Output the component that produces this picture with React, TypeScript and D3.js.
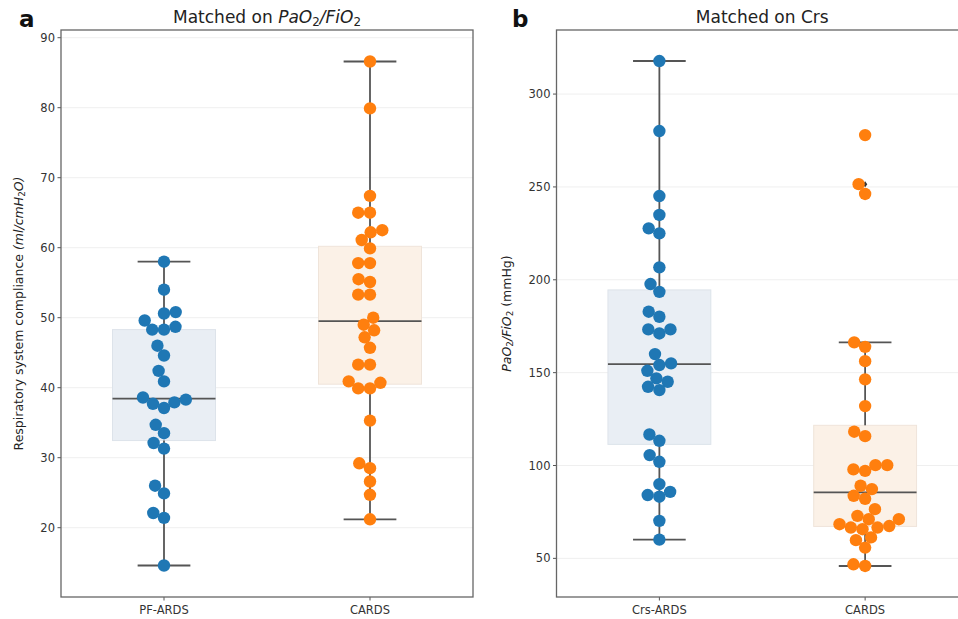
import React from 'react';
import { scaleLinear, scaleBand, quantile, ascending } from 'd3';

// panel a: compliance (ml/cmH2O)
const pfArds = [58, 54, 50.8, 50.6, 49.6, 48.3, 48.3, 48.7, 46.0, 44.6, 42.4, 40.9, 38.6, 37.7, 37.1, 37.9, 38.3, 34.7, 33.5, 32.1, 31.3, 26.0, 24.9, 22.1, 21.4, 14.6];
const cardsA = [86.6, 79.9, 67.4, 65.0, 65.0, 62.5, 62.2, 61.1, 59.9, 57.8, 57.8, 55.5, 55.1, 53.3, 53.3, 50.0, 49.0, 48.2, 47.2, 45.7, 43.3, 43.3, 40.9, 39.9, 39.9, 40.7, 35.3, 29.2, 28.5, 26.6, 24.7, 21.2];
// panel b: PaO2/FiO2 (mmHg)
const crsArds = [317.8, 280.1, 245.1, 234.9, 227.7, 225.0, 206.7, 197.7, 193.5, 182.8, 180.1, 173.3, 171.1, 173.3, 160.0, 155.0, 154.1, 151.0, 146.9, 145.1, 142.4, 140.6, 116.7, 113.3, 105.6, 102.0, 90.0, 84.1, 83.2, 85.8, 70.2, 60.1];
const cardsB = [277.9, 251.5, 246.2, 166.3, 163.9, 156.2, 146.4, 132.0, 118.2, 115.8, 97.9, 97.1, 100.2, 100.2, 89.1, 87.3, 83.7, 82.1, 76.5, 72.9, 71.1, 68.4, 66.6, 65.7, 66.6, 67.4, 71.1, 59.8, 61.3, 55.8, 46.8, 45.9];

const catsA = ['PF-ARDS', 'CARDS'];
const catsB = ['Crs-ARDS', 'CARDS'];
const ticksA = [20, 30, 40, 50, 60, 70, 80, 90];
const ticksB = [50, 100, 150, 200, 250, 300];

const colors = ['#1f77b4', '#ff7f0e'];
const boxFills = ['#e9eef4', '#fbf1e7'];
const boxEdges = ['#dde3ea', '#efe4da'];
const FONT = 'DejaVu Sans';
const R = 6.2;
const GAP = 11.8;

type Pt = { v: number; x: number; y: number };

// simple beeswarm, like seaborn: ascending order, closest free spot to center
function swarm(vals: number[], y: (v: number) => number): Pt[] {
  const pts: Pt[] = vals.map(v => ({ v, x: 0, y: y(v) }));
  const order = [...pts].sort((a, b) => ascending(a.v, b.v));
  const placed: Pt[] = [];
  order.forEach(p => {
    const nb = placed.filter(q => Math.abs(q.y - p.y) < GAP);
    const cand = [0];
    nb.forEach(q => {
      const dx = Math.sqrt(GAP * GAP - (q.y - p.y) ** 2);
      cand.push(q.x - dx, q.x + dx);
    });
    const sorted = cand.map((c, i) => ({ c, i })).sort((a, b) => Math.abs(a.c) - Math.abs(b.c) || a.i - b.i);
    const ok = sorted.find(({ c }) => nb.every(q => (c - q.x) ** 2 + (p.y - q.y) ** 2 >= GAP * GAP - 0.01));
    p.x = ok ? ok.c : 0;
    placed.push(p);
  });
  return pts;
}

function stats(vals: number[]) {
  const s = [...vals].sort(ascending);
  const q1 = quantile(s, 0.25)!;
  const med = quantile(s, 0.5)!;
  const q3 = quantile(s, 0.75)!;
  const iqr = q3 - q1;
  const inside = s.filter(v => v >= q1 - 1.5 * iqr && v <= q3 + 1.5 * iqr);
  return { q1, med, q3, lo: inside[0], hi: inside[inside.length - 1], fliers: s.filter(v => !inside.includes(v)) };
}

function Sub({ children }: { children: string }) {
  return <tspan fontStyle="normal" fontSize="0.7em" baselineShift="-22%">{children}</tspan>;
}

type PanelProps = {
  left: number; right: number; top: number; bottom: number;
  domain: [number, number]; ticks: number[]; cats: string[]; groups: number[][];
  title: React.ReactNode; ylabel: React.ReactNode; letter: string; letterX: number; ylabelX: number;
};

function Panel(p: PanelProps) {
  const y = scaleLinear().domain(p.domain).range([p.bottom, p.top]);
  const x = scaleBand().domain(p.cats).range([p.left, p.right]).paddingInner(0.5).paddingOuter(0.25);
  const step = x.step();
  const boxW = step * 0.5;
  const capHalf = step * 0.128;
  const mid = (p.left + p.right) / 2;
  return (
    <g fontFamily={FONT}>
      {p.ticks.map(t => (
        <g key={t}>
          <line x1={p.left} x2={p.right} y1={y(t)} y2={y(t)} stroke="#efefef" strokeWidth={1} />
          <line x1={p.left - 3.5} x2={p.left} y1={y(t)} y2={y(t)} stroke="#555" strokeWidth={1} />
          <text x={p.left - 6} y={y(t)} dy="0.35em" textAnchor="end" fontSize={11.5} fill="#333">{t}</text>
        </g>
      ))}
      {p.groups.map((g, i) => {
        const c = x(p.cats[i])! + x.bandwidth() / 2;
        const st = stats(g);
        const pts = swarm(g, y);
        return (
          <g key={i}>
            <rect x={c - boxW / 2} y={y(st.q3)} width={boxW} height={y(st.q1) - y(st.q3)} fill={boxFills[i]} stroke={boxEdges[i]} strokeWidth={1} />
            <line x1={c} x2={c} y1={y(st.q3)} y2={y(st.hi)} stroke="#555" strokeWidth={1.8} />
            <line x1={c} x2={c} y1={y(st.q1)} y2={y(st.lo)} stroke="#555" strokeWidth={1.8} />
            <line x1={c - capHalf} x2={c + capHalf} y1={y(st.hi)} y2={y(st.hi)} stroke="#555" strokeWidth={1.8} />
            <line x1={c - capHalf} x2={c + capHalf} y1={y(st.lo)} y2={y(st.lo)} stroke="#555" strokeWidth={1.8} />
            <line x1={c - boxW / 2} x2={c + boxW / 2} y1={y(st.med)} y2={y(st.med)} stroke="#555" strokeWidth={1.8} />
            {st.fliers.map((f, k) => (
              <path key={k} d={`M${c},${y(f) - 3}L${c + 2.2},${y(f)}L${c},${y(f) + 3}L${c - 2.2},${y(f)}Z`} fill="#333" />
            ))}
            {pts.map((d, k) => (
              <circle key={k} cx={c + d.x} cy={d.y} r={R} fill={colors[i]} />
            ))}
            <line x1={c} x2={c} y1={p.bottom} y2={p.bottom + 3.5} stroke="#555" strokeWidth={1} />
            <text x={c} y={p.bottom + 17} textAnchor="middle" fontSize={11.5} fill="#333">{p.cats[i]}</text>
          </g>
        );
      })}
      <rect x={p.left} y={p.top} width={p.right - p.left} height={p.bottom - p.top} fill="none" stroke="#666" strokeWidth={1.3} />
      <text x={mid} y={23} textAnchor="middle" fontSize={17} fill="#222">{p.title}</text>
      <text x={p.letterX} y={27} fontSize={23} fontWeight="bold" fill="#111">{p.letter}</text>
      <text transform={`translate(${p.ylabelX},${(p.top + p.bottom) / 2}) rotate(-90)`} textAnchor="middle" fontSize={12.5} fill="#222">{p.ylabel}</text>
    </g>
  );
}

export default function App() {
  return (
    <svg width={958} height={619} style={{ position: 'absolute', left: 0, top: 0, background: '#fff' }}>
      <Panel
        left={61} right={473} top={30} bottom={597}
        domain={[10.1, 91.1]} ticks={ticksA} cats={catsA} groups={[pfArds, cardsA]}
        title={<>Matched on <tspan fontStyle="italic">PaO<Sub>2</Sub>/FiO<Sub>2</Sub></tspan></>}
        ylabel={<>Respiratory system compliance <tspan fontStyle="italic">(ml/cmH<Sub>2</Sub>O)</tspan></>}
        letter="a" letterX={19} ylabelX={23}
      />
      <Panel
        left={556.5} right={968} top={30} bottom={597}
        domain={[29.2, 334.5]} ticks={ticksB} cats={catsB} groups={[crsArds, cardsB]}
        title={<>Matched on Crs</>}
        ylabel={<><tspan fontStyle="italic">PaO<Sub>2</Sub>/FiO<Sub>2</Sub></tspan> (mmHg)</>}
        letter="b" letterX={512} ylabelX={511}
      />
    </svg>
  );
}
